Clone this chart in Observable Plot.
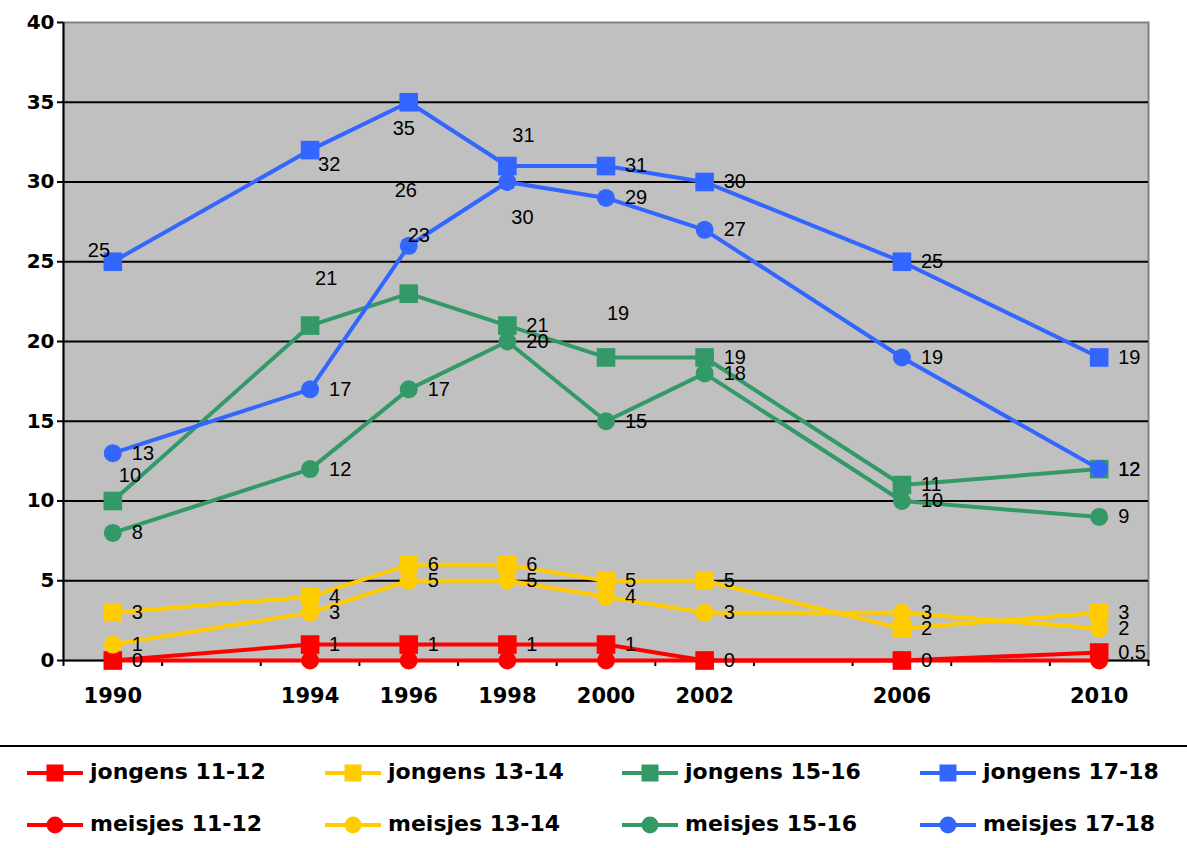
<!DOCTYPE html>
<html><head><meta charset="utf-8">
<script src="https://cdn.jsdelivr.net/npm/d3@7"></script>
<script src="https://cdn.jsdelivr.net/npm/@observablehq/plot@0.6"></script>
<style>
body{margin:0;background:#fff;}
#wrap{width:1187px;height:848px;position:relative;overflow:hidden;background:#fff}
#wrap svg{display:block}
</style></head><body><div id="wrap"></div>
<script>
// ---- data ----
const years = [1990, 1994, 1996, 1998, 2000, 2002, 2006, 2010];
const seriesNames = ["jongens 11-12", "jongens 13-14", "jongens 15-16", "jongens 17-18",
                     "meisjes 11-12", "meisjes 13-14", "meisjes 15-16", "meisjes 17-18"];
const jongens1112 = [0, 1, 1, 1, 1, 0, 0, 0.5];
const jongens1314 = [3, 4, 6, 6, 5, 5, 2, 3];
const jongens1516 = [10, 21, 23, 21, 19, 19, 11, 12];
const jongens1718 = [25, 32, 35, 31, 31, 30, 25, 19];
const meisjes1112 = [0, 0, 0, 0, 0, 0, 0, 0];
const meisjes1314 = [1, 3, 5, 5, 4, 3, 3, 2];
const meisjes1516 = [8, 12, 17, 20, 15, 18, 10, 9];
const meisjes1718 = [13, 17, 26, 30, 29, 27, 19, 12];
const yTicks = [0, 5, 10, 15, 20, 25, 30, 35, 40];
const xTickMarks = [1989, 1991, 1993, 1995, 1997, 1999, 2001, 2003, 2005, 2007, 2009, 2011];

// ---- styles ----
const seriesValues = [jongens1112, jongens1314, jongens1516, jongens1718,
                      meisjes1112, meisjes1314, meisjes1516, meisjes1718];
const seriesColors = ["#FF0000", "#FFCC00", "#339966", "#3366FF",
                      "#FF0000", "#FFCC00", "#339966", "#3366FF"];
const seriesSymbols = ["square", "square", "square", "square", "circle", "circle", "circle", "circle"];
const seriesLabelled = [true, true, true, true, false, true, true, true];
const labelOffsets = {
  "jongens 17-18|1990": [-25, -11],
  "jongens 17-18|1994": [8, 14],
  "jongens 17-18|1996": [-16, 26],
  "jongens 17-18|1998": [5, -30],
  "meisjes 17-18|1996": [-14, -55],
  "meisjes 17-18|1998": [4, 36],
  "jongens 15-16|1990": [6, -25],
  "jongens 15-16|1994": [5, -47],
  "jongens 15-16|1996": [-1, -58],
  "jongens 15-16|2000": [1, -44]
};
const defaultOffset = [19, 0];

const rows = seriesNames.map((name, s) =>
  years.map((yr, i) => ({series: name, year: yr, value: seriesValues[s][i]})));

const marks = [
  Plot.frame({fill: "#C0C0C0", stroke: "#808080", strokeWidth: 2}),
  Plot.ruleY(yTicks.slice(1, -1), {stroke: "#000", strokeWidth: 2}),
  Plot.ruleX([1989], {stroke: "#000", strokeWidth: 2}),
  Plot.ruleY([0], {stroke: "#000", strokeWidth: 2}),
  Plot.axisY(yTicks, {tickSize: 6, tickPadding: 3, strokeWidth: 2, fontSize: 20, fontWeight: "bold",
    fontFamily: "DejaVu Sans", fill: "#000", tickFormat: d => String(d), label: null}),
  Plot.axisX(xTickMarks, {tickSize: 6, strokeWidth: 2, tickFormat: () => "", label: null}),
  Plot.axisX(years, {tickSize: 0, tickPadding: 28, fontSize: 21, fontWeight: "bold",
    fontFamily: "DejaVu Sans", fill: "#000", tickFormat: d => String(d), label: null})
];

seriesNames.forEach((name, s) => {
  marks.push(Plot.line(rows[s], {x: "year", y: "value", stroke: seriesColors[s], strokeWidth: 4}));
  marks.push(Plot.dot(rows[s], {x: "year", y: "value", fill: seriesColors[s], stroke: "none",
    symbol: seriesSymbols[s], r: seriesSymbols[s] === "square" ? 10.5 : 9}));
});

seriesNames.forEach((name, s) => {
  if (!seriesLabelled[s]) return;
  rows[s].forEach(d => {
    const off = labelOffsets[name + "|" + d.year] || defaultOffset;
    marks.push(Plot.text([d], {x: "year", y: "value", text: r => String(r.value).replace(".", ","),
      dx: off[0], dy: off[1], textAnchor: "start", lineAnchor: "middle",
      fontSize: 20, fontFamily: "Liberation Sans", fill: "#000"}));
  });
});

const chart = Plot.plot({
  width: 1187, height: 730,
  marginLeft: 63, marginRight: 39, marginTop: 22, marginBottom: 70,
  x: {domain: [1989, 2011], label: null},
  y: {domain: [0, 40], label: null},
  style: {background: "#fff", color: "#000", overflow: "visible"},
  marks
});
const wrap = document.getElementById("wrap");
wrap.appendChild(chart);

// ---- legend ----
const legend = document.createElement("div");
legend.style.cssText = "position:relative;width:1187px;height:118px;";
const sep = document.createElement("div");
sep.style.cssText = "position:absolute;left:0;top:15px;width:1187px;height:2px;background:#000;";
legend.appendChild(sep);
const colX = [27, 325, 622, 920];
const rowY = [43, 95];
seriesNames.forEach((name, s) => {
  const col = s % 4, row = Math.floor(s / 4);
  const ns = "http://www.w3.org/2000/svg";
  const svg = document.createElementNS(ns, "svg");
  svg.setAttribute("width", 56); svg.setAttribute("height", 24);
  svg.style.cssText = `position:absolute;left:${colX[col]}px;top:${rowY[row] - 12}px;display:block`;
  const ln = document.createElementNS(ns, "line");
  ln.setAttribute("x1", 0); ln.setAttribute("x2", 56); ln.setAttribute("y1", 12); ln.setAttribute("y2", 12);
  ln.setAttribute("stroke", seriesColors[s]); ln.setAttribute("stroke-width", 4);
  svg.appendChild(ln);
  let m;
  if (seriesSymbols[s] === "square") {
    m = document.createElementNS(ns, "rect");
    m.setAttribute("x", 19.5); m.setAttribute("y", 3.5); m.setAttribute("width", 17); m.setAttribute("height", 17);
  } else {
    m = document.createElementNS(ns, "circle");
    m.setAttribute("cx", 28); m.setAttribute("cy", 12); m.setAttribute("r", 8.5);
  }
  m.setAttribute("fill", seriesColors[s]);
  svg.appendChild(m);
  legend.appendChild(svg);
  const t = document.createElement("div");
  t.textContent = name;
  t.style.cssText = `position:absolute;left:${colX[col] + 63}px;top:${rowY[row] - 14}px;line-height:26px;` +
    "font-family:'DejaVu Sans';font-weight:bold;font-size:22px;color:#000;white-space:nowrap;";
  legend.appendChild(t);
});
wrap.appendChild(legend);
</script>
</body></html>
